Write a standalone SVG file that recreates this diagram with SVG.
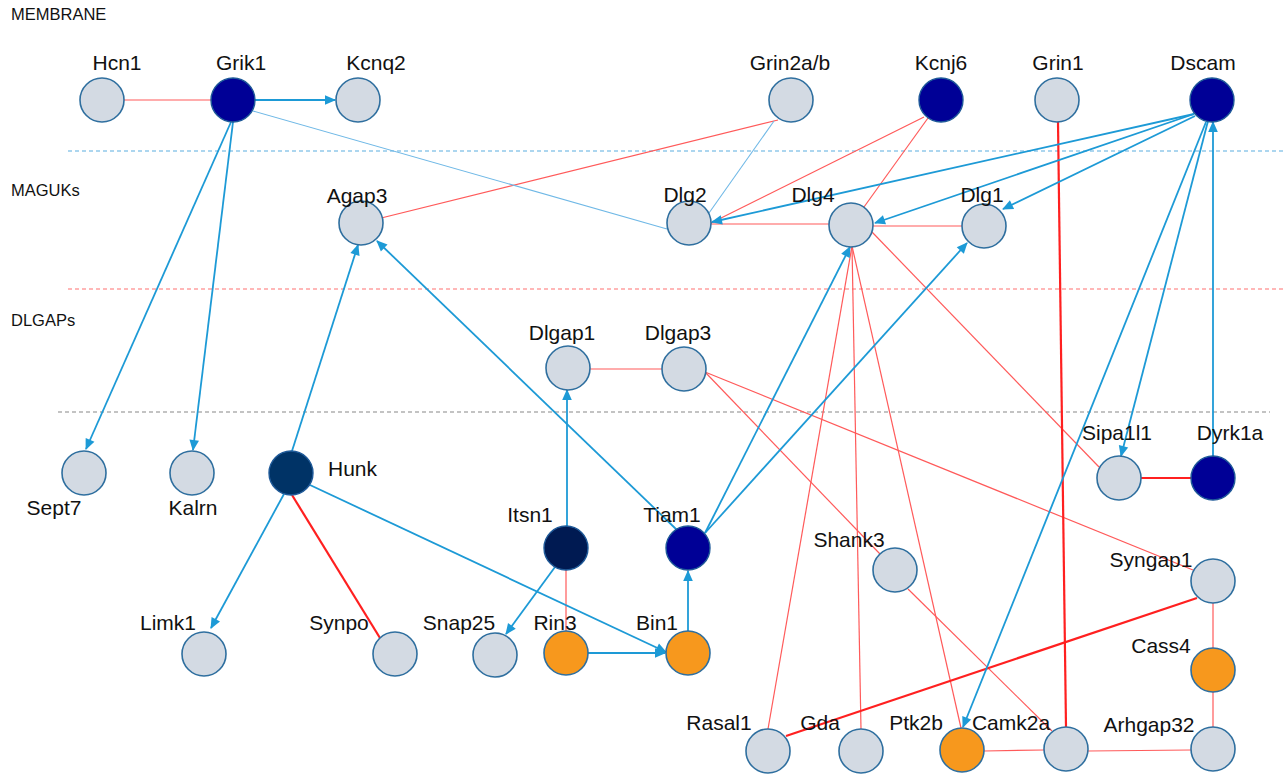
<svg xmlns="http://www.w3.org/2000/svg" width="1286" height="774" viewBox="0 0 1286 774">
<style>
  .lbl { font-family: "Liberation Sans", Arial, sans-serif; font-size: 21px; fill: #111; text-anchor: middle; }
  .sec { font-family: "Liberation Sans", Arial, sans-serif; font-size: 16.5px; fill: #111; }
  .n { fill: #d3dae3; stroke: #2f6f9f; stroke-width: 1.6; }
  .d { fill: #000096; stroke: #1f5a99; stroke-width: 1.4; }
  .h { fill: #003366; stroke: #1f5a99; stroke-width: 1.4; }
  .i { fill: #001a52; stroke: #1f5a99; stroke-width: 1.4; }
  .o { fill: #f7981d; stroke: #2f6f9f; stroke-width: 1.6; }
  .r { stroke: #ff5a5a; stroke-width: 1.2; fill: none; }
  .R { stroke: #ff2020; stroke-width: 2.2; fill: none; }
  .lb { stroke: #6fb8e6; stroke-width: 1.1; fill: none; }
  .b { stroke: #1d9ad6; stroke-width: 1.8; fill: none; marker-end: url(#arr); }
  .dash { stroke-width: 1.1; stroke-dasharray: 4 3; fill: none; }
</style>
<defs>
  <marker id="arr" markerUnits="userSpaceOnUse" orient="auto" refX="0" refY="0" markerWidth="20" markerHeight="20" overflow="visible">
    <path d="M1,0 L-10,-4.8 L-10,4.8 z" fill="#1d9ad6"/>
  </marker>
</defs>
<rect width="1286" height="774" fill="#ffffff"/>

<g id="layers">
  <line class="dash" x1="68" y1="151" x2="1286" y2="151" stroke="#5aaee0"/>
  <line class="dash" x1="68" y1="289" x2="1286" y2="289" stroke="#ff7070"/>
  <line class="dash" x1="58" y1="412" x2="1270" y2="412" stroke="#888888"/>
  <text class="sec" x="11" y="20">MEMBRANE</text>
  <text class="sec" x="11" y="196">MAGUKs</text>
  <text class="sec" x="11" y="326">DLGAPs</text>
</g>

<g id="connectors">
  <line class="r" x1="102" y1="100" x2="233" y2="100"/>
  <line class="r" x1="778" y1="120" x2="361" y2="223"/>
  <line class="r" x1="924" y1="117" x2="711" y2="223"/>
  <line class="r" x1="928" y1="118" x2="864" y2="207"/>
  <line class="r" x1="711" y1="224" x2="829" y2="224"/>
  <line class="r" x1="873" y1="226" x2="962" y2="226"/>
  <line class="r" x1="872" y1="232" x2="1099" y2="467"/>
  <line class="r" x1="852" y1="246" x2="768" y2="729"/>
  <line class="r" x1="852" y1="246" x2="861" y2="729"/>
  <line class="r" x1="852" y1="246" x2="961" y2="728"/>
  <line class="r" x1="590" y1="369" x2="662" y2="369"/>
  <line class="r" x1="705" y1="372" x2="1193" y2="570"/>
  <line class="r" x1="705" y1="372" x2="880" y2="554"/>
  <line class="r" x1="908" y1="589" x2="1052" y2="731"/>
  <line class="r" x1="566" y1="570" x2="566" y2="632"/>
  <line class="r" x1="1213" y1="603" x2="1213" y2="648"/>
  <line class="r" x1="1213" y1="692" x2="1213" y2="727"/>
  <line class="r" x1="1088" y1="751" x2="1191" y2="750"/>
  <line class="r" x1="984" y1="751" x2="1044" y2="750"/>
  <line class="R" x1="1058" y1="122" x2="1066" y2="727"/>
  <line class="R" x1="1197" y1="598" x2="786" y2="736"/>
  <line class="R" x1="1141" y1="478" x2="1191" y2="478"/>
  <line class="R" x1="292" y1="495" x2="380" y2="638"/>
  <line class="lb" x1="253" y1="111" x2="667" y2="229"/>
  <line class="lb" x1="774" y1="121" x2="709" y2="213"/>
  <line class="b" x1="255" y1="100" x2="335" y2="100"/>
  <line class="b" x1="231" y1="122" x2="86" y2="449"/>
  <line class="b" x1="233" y1="122" x2="193" y2="450"/>
  <line class="b" x1="292" y1="451" x2="358" y2="245"/>
  <line class="b" x1="677" y1="530" x2="377" y2="241"/>
  <line class="b" x1="284" y1="494" x2="211" y2="628"/>
  <line class="b" x1="310" y1="485" x2="666" y2="652"/>
  <line class="b" x1="567" y1="526" x2="567" y2="390"/>
  <line class="b" x1="555" y1="567" x2="506" y2="634"/>
  <line class="b" x1="588" y1="653" x2="665" y2="653"/>
  <line class="b" x1="688" y1="631" x2="688" y2="571"/>
  <line class="b" x1="705" y1="533" x2="850" y2="247"/>
  <line class="b" x1="705" y1="533" x2="967" y2="243"/>
  <line class="b" x1="1194" y1="114" x2="712" y2="222"/>
  <line class="b" x1="1194" y1="114" x2="875" y2="223"/>
  <line class="b" x1="1195" y1="116" x2="1003" y2="209"/>
  <line class="b" x1="1208" y1="121" x2="1121" y2="456"/>
  <line class="b" x1="1206" y1="122" x2="963" y2="727"/>
  <line class="b" x1="1213" y1="456" x2="1213" y2="122"/>
</g>

<g id="Hcn1"><circle class="n" cx="102" cy="100" r="22"/><text class="lbl" x="117" y="70">Hcn1</text></g>
<g id="Grik1"><circle class="d" cx="233" cy="100" r="22"/><text class="lbl" x="241" y="70">Grik1</text></g>
<g id="Kcnq2"><circle class="n" cx="358" cy="100" r="22"/><text class="lbl" x="376" y="70">Kcnq2</text></g>
<g id="Grin2ab"><circle class="n" cx="791" cy="100" r="22"/><text class="lbl" x="790" y="70">Grin2a/b</text></g>
<g id="Kcnj6"><circle class="d" cx="941" cy="100" r="22"/><text class="lbl" x="941" y="70">Kcnj6</text></g>
<g id="Grin1"><circle class="n" cx="1057" cy="100" r="22"/><text class="lbl" x="1058" y="70">Grin1</text></g>
<g id="Dscam"><circle class="d" cx="1212" cy="100" r="22"/><text class="lbl" x="1203" y="70">Dscam</text></g>

<g id="Agap3"><circle class="n" cx="361" cy="223" r="22"/><text class="lbl" x="357" y="203">Agap3</text></g>
<g id="Dlg2"><circle class="n" cx="689" cy="223" r="22"/><text class="lbl" x="685" y="202">Dlg2</text></g>
<g id="Dlg4"><circle class="n" cx="851" cy="225" r="22"/><text class="lbl" x="813" y="202">Dlg4</text></g>
<g id="Dlg1"><circle class="n" cx="984" cy="226" r="22"/><text class="lbl" x="982" y="202">Dlg1</text></g>

<g id="Dlgap1"><circle class="n" cx="568" cy="368" r="22"/><text class="lbl" x="562" y="340">Dlgap1</text></g>
<g id="Dlgap3"><circle class="n" cx="684" cy="369" r="22"/><text class="lbl" x="678" y="340">Dlgap3</text></g>

<g id="Sept7"><circle class="n" cx="84" cy="473" r="22"/><text class="lbl" x="54" y="515">Sept7</text></g>
<g id="Kalrn"><circle class="n" cx="192" cy="473" r="22"/><text class="lbl" x="193" y="515">Kalrn</text></g>
<g id="Hunk"><circle class="h" cx="291" cy="473" r="22"/><text class="lbl" x="328" y="476" style="text-anchor:start">Hunk</text></g>
<g id="Sipa1l1"><circle class="n" cx="1119" cy="478" r="22"/><text class="lbl" x="1117" y="440">Sipa1l1</text></g>
<g id="Dyrk1a"><circle class="d" cx="1213" cy="478" r="22"/><text class="lbl" x="1230" y="440">Dyrk1a</text></g>

<g id="Itsn1"><circle class="i" cx="566" cy="548" r="22"/><text class="lbl" x="530" y="522">Itsn1</text></g>
<g id="Tiam1"><circle class="d" cx="688" cy="548" r="22"/><text class="lbl" x="672" y="522">Tiam1</text></g>
<g id="Shank3"><circle class="n" cx="895" cy="570" r="22"/><text class="lbl" x="849" y="547">Shank3</text></g>
<g id="Syngap1"><circle class="n" cx="1213" cy="581" r="22"/><text class="lbl" x="1151" y="567">Syngap1</text></g>

<g id="Limk1"><circle class="n" cx="204" cy="654" r="22"/><text class="lbl" x="168" y="630">Limk1</text></g>
<g id="Synpo"><circle class="n" cx="395" cy="654" r="22"/><text class="lbl" x="339" y="630">Synpo</text></g>
<g id="Snap25"><circle class="n" cx="495" cy="655" r="22"/><text class="lbl" x="459" y="630">Snap25</text></g>
<g id="Rin3"><circle class="o" cx="566" cy="653" r="22"/><text class="lbl" x="555" y="630">Rin3</text></g>
<g id="Bin1"><circle class="o" cx="688" cy="653" r="22"/><text class="lbl" x="657" y="630">Bin1</text></g>
<g id="Cass4"><circle class="o" cx="1213" cy="670" r="22"/><text class="lbl" x="1161" y="653">Cass4</text></g>

<g id="Rasal1"><circle class="n" cx="768" cy="751" r="22"/><text class="lbl" x="719" y="730">Rasal1</text></g>
<g id="Gda"><circle class="n" cx="861" cy="751" r="22"/><text class="lbl" x="820" y="730">Gda</text></g>
<g id="Ptk2b"><circle class="o" cx="962" cy="750" r="22"/><text class="lbl" x="916" y="730">Ptk2b</text></g>
<g id="Camk2a"><circle class="n" cx="1066" cy="749" r="22"/><text class="lbl" x="1011" y="730">Camk2a</text></g>
<g id="Arhgap32"><circle class="n" cx="1213" cy="749" r="22"/><text class="lbl" x="1149" y="732">Arhgap32</text></g>
</svg>
